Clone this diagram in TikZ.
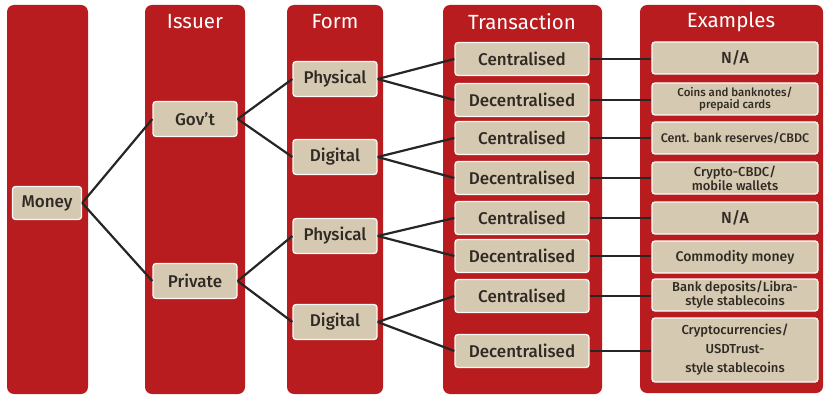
\documentclass[tikz,border=0pt]{standalone}
\usepackage{fontspec}
\setmainfont{Fira Sans}[UprightFont={* Medium}]
\newfontfamily\titlefont{Fira Sans}
\usetikzlibrary{positioning}
\definecolor{colred}{RGB}{185,28,30}
\definecolor{boxtan}{RGB}{214,201,177}
\definecolor{inktext}{RGB}{48,42,36}
\tikzstyle{column} = [fill=colred, rounded corners=7pt]
\tikzstyle{coltitle} = [text=white, inner sep=0pt, font=\titlefont\fontsize{20.5}{20.5}\selectfont]
\tikzstyle{item} = [draw=white!90!boxtan, line width=1.3pt, fill=boxtan, rounded corners=3pt, text=inktext, inner sep=0pt, align=center, font=\fontsize{17}{17}\selectfont]
\tikzstyle{treebox} = [item, minimum width=84pt, minimum height=35pt]
\tikzstyle{transbox} = [item, minimum width=134pt, minimum height=33pt]
\tikzstyle{examplebox} = [item, minimum width=166pt, minimum height=32pt, font=\fontsize{13}{13}\selectfont]
\tikzstyle{link} = [line width=2.2pt, black!85]

\begin{document}
\begin{tikzpicture}[x=1pt, y=-1pt]
	\useasboundingbox (0,0) rectangle (829,398);
	% columns
	\fill[column] (7,5) rectangle (88,394);
	\fill[column] (145,5) rectangle (245,394);
	\fill[column] (287,5) rectangle (383,394);
	\fill[column] (443,5) rectangle (602,394);
	\fill[column] (640,5) rectangle (823,393);
	\node[coltitle] (tissuer) at (195,22) {Issuer};
	\node[coltitle] (tform) at (335,22) {Form};
	\node[coltitle] (ttrans) at (522,22) {Transaction};
	\node[coltitle] (texamples) at (731,22) {Examples};

	% tree
	\node[item, minimum width=69pt, minimum height=33pt] (money) at (47,203) {Money};
	\node[treebox] (gov) at (195,119) {Gov't};
	\node[treebox] (private) at (195,281) {Private};
	\node[treebox] (physA) at (335,79) {Physical};
	\node[treebox] (digA) at (335,157) {Digital};
	\node[treebox] (physB) at (335,236) {Physical};
	\node[treebox] (digB) at (335,322) {Digital};

	\node[transbox] (cenA) at (522,59) {Centralised};
	\node[transbox] (decA) at (522,100) {Decentralised};
	\node[transbox] (cenB) at (522,138) {Centralised};
	\node[transbox] (decB) at (522,178) {Decentralised};
	\node[transbox] (cenC) at (522,218) {Centralised};
	\node[transbox] (decC) at (522,256) {Decentralised};
	\node[transbox] (cenD) at (522,296) {Centralised};
	\node[transbox] (decD) at (522,351) {Decentralised};

	\node[examplebox, font=\fontsize{16}{16}\selectfont] (exA) at (735,58) {N/A};
	\node[examplebox, font=\fontsize{11.5}{12.5}\selectfont] (exB) at (735,99) {Coins and banknotes/\\prepaid cards};
	\node[examplebox, font=\fontsize{12.5}{12.5}\selectfont] (exC) at (735,138) {Cent. bank reserves/CBDC};
	\node[examplebox] (exD) at (735,178) {Crypto-CBDC/\\mobile wallets};
	\node[examplebox, font=\fontsize{16}{16}\selectfont] (exE) at (735,218) {N/A};
	\node[examplebox, font=\fontsize{14}{14}\selectfont] (exF) at (735,257) {Commodity money};
	\node[examplebox] (exG) at (735,295) {Bank deposits/Libra-\\style stablecoins};
	\node[examplebox, minimum height=64pt, font=\fontsize{13}{19}\selectfont] (exH) at (735,350) {Cryptocurrencies/\\USDTrust-\\style stablecoins};

	% connectors
	\draw[link] (money.east) -- (gov.west);
	\draw[link] (money.east) -- (private.west);
	\draw[link] (gov.east) -- (physA.west);
	\draw[link] (gov.east) -- (digA.west);
	\draw[link] (private.east) -- (physB.west);
	\draw[link] (private.east) -- (digB.west);
	\draw[link] (physA.east) -- (cenA.west);
	\draw[link] (physA.east) -- (decA.west);
	\draw[link] (digA.east) -- (cenB.west);
	\draw[link] (digA.east) -- (decB.west);
	\draw[link] (physB.east) -- (cenC.west);
	\draw[link] (physB.east) -- (decC.west);
	\draw[link] (digB.east) -- (cenD.west);
	\draw[link] (digB.east) -- (decD.west);
	\draw[link] (cenA.east) -- (cenA.east -| exA.west);
	\draw[link] (decA.east) -- (decA.east -| exB.west);
	\draw[link] (cenB.east) -- (cenB.east -| exC.west);
	\draw[link] (decB.east) -- (decB.east -| exD.west);
	\draw[link] (cenC.east) -- (cenC.east -| exE.west);
	\draw[link] (decC.east) -- (decC.east -| exF.west);
	\draw[link] (cenD.east) -- (cenD.east -| exG.west);
	\draw[link] (decD.east) -- (decD.east -| exH.west);
\end{tikzpicture}
\end{document}
